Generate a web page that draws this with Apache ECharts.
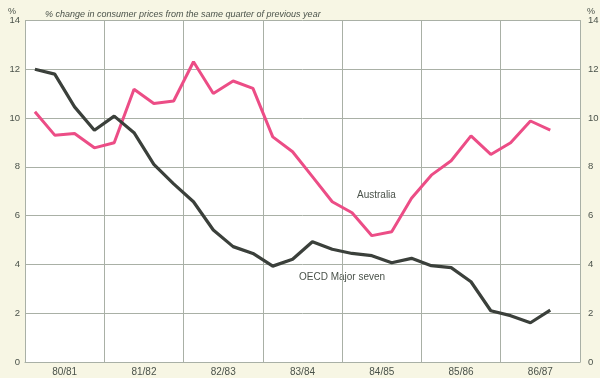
<!DOCTYPE html>
<html>
<head>
<meta charset="utf-8">
<script src="https://cdn.jsdelivr.net/npm/echarts@6/dist/echarts.min.js"></script>
<style>
  html, body { margin: 0; padding: 0; background: #f7f6e4; }
  #chart { width: 600px; height: 378px; }
</style>
</head>
<body>
<div id="chart"></div>
<script>
// quarters Sep 1980 .. Mar 1987 (27 quarters)
const years = ["80/81", "81/82", "82/83", "83/84", "84/85", "85/86", "86/87"];
const quarters = [];
years.forEach((y) => { for (let q = 1; q <= 4; q++) quarters.push(y + " Q" + q); });

const australia = [10.26, 9.3, 9.37, 8.78, 8.99, 11.18, 10.6, 10.7, 12.31, 11.01, 11.52, 11.22,
  9.23, 8.62, 7.6, 6.57, 6.12, 5.18, 5.34, 6.71, 7.66, 8.25, 9.27, 8.51, 8.99, 9.88, 9.51];
const oecd = [12.0, 11.8, 10.46, 9.5, 10.08, 9.4, 8.1, 7.3, 6.57, 5.41, 4.73, 4.45,
  3.93, 4.21, 4.93, 4.62, 4.45, 4.36, 4.07, 4.25, 3.95, 3.87, 3.29, 2.1, 1.9, 1.61, 2.13];

const textCol = "#4a524a";
const gridCol = "#a9b0a6";

let myChart = echarts.init(document.getElementById("chart"));
let option = {
  backgroundColor: "#f7f6e4",
  animation: false,
  textStyle: { fontFamily: "Liberation Sans" },
  title: {
    text: "% change in consumer prices from the same quarter of previous year",
    left: 40,
    top: 5,
    textStyle: { fontSize: 9, fontStyle: "italic", fontWeight: "normal", color: textCol },
  },
  graphic: [
    { type: "text", left: 8, top: 7, style: { text: "%", fontSize: 9, fill: textCol } },
    { type: "text", left: 587, top: 7, style: { text: "%", fontSize: 9, fill: textCol } },
    { type: "text", left: 357, top: 190, style: { text: "Australia", fontSize: 10, fill: textCol, fontFamily: "Liberation Sans" } },
    { type: "text", left: 299, top: 272, style: { text: "OECD Major seven", fontSize: 10, fill: textCol, fontFamily: "Liberation Sans" } },
  ],
  grid: {
    left: 25,
    right: 20,
    top: 20.5,
    bottom: 16,
    outerBoundsMode: "none",
    containLabel: false,
    show: true,
    backgroundColor: "#ffffff",
    borderWidth: 0,
  },
  xAxis: [
    {
      type: "category",
      data: quarters,
      boundaryGap: true,
      show: false,
    },
    {
      type: "category",
      data: years,
      position: "bottom",
      boundaryGap: true,
      axisLine: { show: true, lineStyle: { color: gridCol, width: 1 } },
      axisTick: { show: false },
      axisLabel: { color: textCol, fontSize: 10, margin: 5 },
      splitLine: { show: true, interval: 0, lineStyle: { color: gridCol, width: 1 } },
    },
  ],
  yAxis: [
    {
      type: "value",
      min: 0,
      max: 14,
      interval: 2,
      axisLine: { show: false },
      axisTick: { show: false },
      axisLabel: { color: textCol, fontSize: 9.5, margin: 5 },
      splitLine: { show: true, lineStyle: { color: gridCol, width: 1 } },
    },
    {
      type: "value",
      min: 0,
      max: 14,
      interval: 2,
      position: "right",
      axisLine: { show: true, lineStyle: { color: gridCol, width: 1 } },
      axisTick: { show: false },
      axisLabel: { color: textCol, fontSize: 9.5, margin: 8 },
      splitLine: { show: false },
    },
  ],
  series: [
    {
      name: "Australia",
      type: "line",
      xAxisIndex: 0,
      yAxisIndex: 0,
      data: australia,
      symbol: "none",
      lineStyle: { color: "#ec4d86", width: 3 },
    },
    {
      name: "OECD Major seven",
      type: "line",
      xAxisIndex: 0,
      yAxisIndex: 0,
      data: oecd,
      symbol: "none",
      lineStyle: { color: "#3b403b", width: 3.2 },
    },
  ],
};
option && myChart.setOption(option);
</script>
</body>
</html>
